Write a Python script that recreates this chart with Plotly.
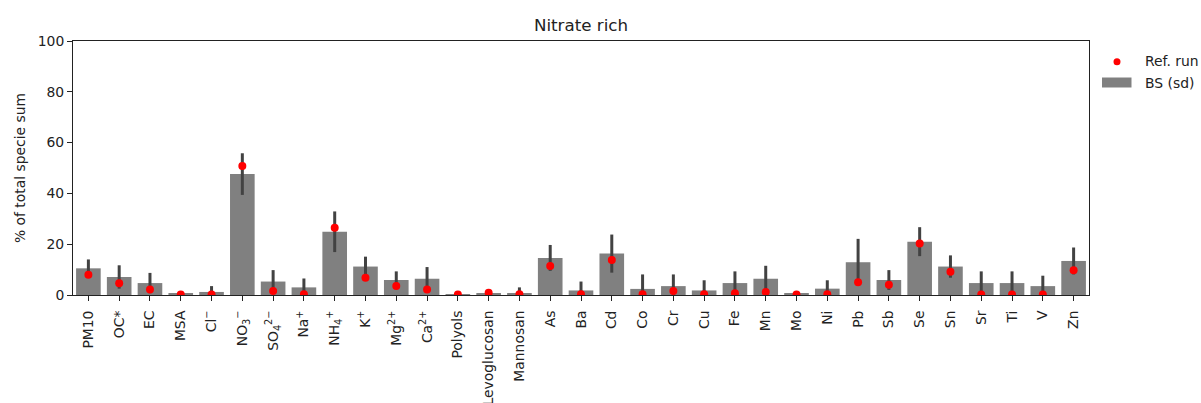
import plotly.graph_objects as go

# Species shown on the x axis (HTML sub/superscripts for ions)
species = [
    "PM10", "OC*", "EC", "MSA", "Cl<sup>−</sup>", "NO<sub>3</sub><sup>−</sup>",
    "SO<sub>4</sub><sup>2−</sup>", "Na<sup>+</sup>", "NH<sub>4</sub><sup>+</sup>",
    "K<sup>+</sup>", "Mg<sup>2+</sup>", "Ca<sup>2+</sup>", "Polyols", "Levoglucosan",
    "Mannosan", "As", "Ba", "Cd", "Co", "Cr", "Cu", "Fe", "Mn", "Mo", "Ni",
    "Pb", "Sb", "Se", "Sn", "Sr", "Ti", "V", "Zn",
]

# Bootstrap mean share (% of total specie sum)
bs_mean = [
    10.5, 7.1, 4.7, 0.7, 1.2, 47.6, 5.3, 3.0, 24.9, 11.2, 5.9, 6.4, 0.1, 0.7,
    0.5, 14.6, 1.8, 16.3, 2.4, 3.5, 1.8, 4.7, 6.4, 0.6, 2.5, 12.9, 5.9, 21.0,
    11.2, 4.7, 4.7, 3.5, 13.4,
]

# Bootstrap standard deviation
bs_sd = [
    3.5, 4.6, 4.0, 0.3, 2.3, 8.2, 4.5, 3.5, 8.0, 3.9, 3.4, 4.6, 0.1, 1.5,
    2.5, 5.1, 3.5, 7.5, 5.7, 4.6, 4.0, 4.6, 5.1, 0.3, 3.3, 9.2, 3.9, 5.7,
    4.4, 4.6, 4.6, 4.1, 5.3,
]

# Reference run share
ref_run = [
    8.0, 4.6, 2.2, 0.2, 0.2, 50.8, 1.6, 0.3, 26.5, 6.8, 3.5, 2.2, 0.2, 0.9,
    0.3, 11.4, 0.3, 13.8, 0.3, 1.6, 0.3, 0.7, 1.2, 0.2, 0.3, 5.0, 4.0, 20.3,
    9.2, 0.2, 0.2, 0.2, 9.7,
]

BAR_COLOR = "#808080"
ERR_COLOR = "#424242"
DOT_COLOR = "#ff0000"
TEXT_COLOR = "#222222"
font = "DejaVu Sans, sans-serif"

W, H = 1201, 403
L, R, T, B = 73, 112, 41, 108
plot_w, plot_h = W - L - R, H - T - B


def px_to_paper(px, py):
    """Convert a pixel position on the page to paper coordinates."""
    return (px - L) / plot_w, (H - B - py) / plot_h


x_idx = list(range(len(species)))

fig = go.Figure()

fig.add_trace(go.Bar(
    x=x_idx, y=bs_mean, width=0.8, name="BS (sd)",
    marker=dict(color=BAR_COLOR, line=dict(width=0)),
    error_y=dict(type="data", array=bs_sd, symmetric=True,
                 color=ERR_COLOR, thickness=3, width=0),
    showlegend=False,
))

fig.add_trace(go.Scatter(
    x=x_idx, y=ref_run, mode="markers", name="Ref. run",
    marker=dict(color=DOT_COLOR, size=8),
    showlegend=False,
))

# Legend drawn by hand: red dot + wide grey patch, labels to the right
shapes = []
annotations = []

cx0, cy0 = px_to_paper(1113.5, 58.2)
cx1, cy1 = px_to_paper(1120.5, 65.2)
shapes.append(dict(type="circle", xref="paper", yref="paper",
                   x0=cx0, x1=cx1, y0=cy1, y1=cy0,
                   fillcolor=DOT_COLOR, line=dict(width=0)))

rx0, ry0 = px_to_paper(1102, 77.5)
rx1, ry1 = px_to_paper(1131.5, 87.5)
shapes.append(dict(type="rect", xref="paper", yref="paper",
                   x0=rx0, x1=rx1, y0=ry1, y1=ry0,
                   fillcolor=BAR_COLOR, line=dict(width=0)))

for label, py in (("Ref. run", 61), ("BS (sd)", 83)):
    ax, ay = px_to_paper(1143, py)
    annotations.append(dict(text=label, xref="paper", yref="paper", x=ax, y=ay,
                            xanchor="left", yanchor="middle", showarrow=False,
                            font=dict(family=font, size=13.9, color=TEXT_COLOR)))

fig.update_layout(
    width=W, height=H,
    margin=dict(l=L, r=R, t=T, b=B),
    paper_bgcolor="white", plot_bgcolor="white",
    font=dict(family=font, size=13.9, color=TEXT_COLOR),
    title=dict(text="Nitrate rich", x=(L + W - R) / 2 / W, xanchor="center",
               y=1 - 25 / H, yanchor="middle", font=dict(size=16.7)),
    bargap=0.2,
    showlegend=False,
    shapes=shapes,
    annotations=annotations,
)

fig.update_xaxes(
    range=[-0.5, len(species) - 0.5],
    tickmode="array", tickvals=x_idx, ticktext=species, tickangle=-90,
    ticks="outside", ticklen=5, tickcolor=TEXT_COLOR,
    ticklabelstandoff=4,
    showline=True, linecolor=TEXT_COLOR, linewidth=1, mirror=True,
    showgrid=False, zeroline=False, automargin=False,
    tickfont=dict(size=13.9),
)

fig.update_yaxes(
    range=[0, 100], tickvals=[0, 20, 40, 60, 80, 100],
    ticks="outside", ticklen=5, tickcolor=TEXT_COLOR,
    showline=True, linecolor=TEXT_COLOR, linewidth=1, mirror=True,
    showgrid=False, zeroline=False, automargin=False,
    title=dict(text="% of total specie sum", standoff=8, font=dict(size=13.9)),
    tickfont=dict(size=13.9),
)

fig.write_html("out.html")
